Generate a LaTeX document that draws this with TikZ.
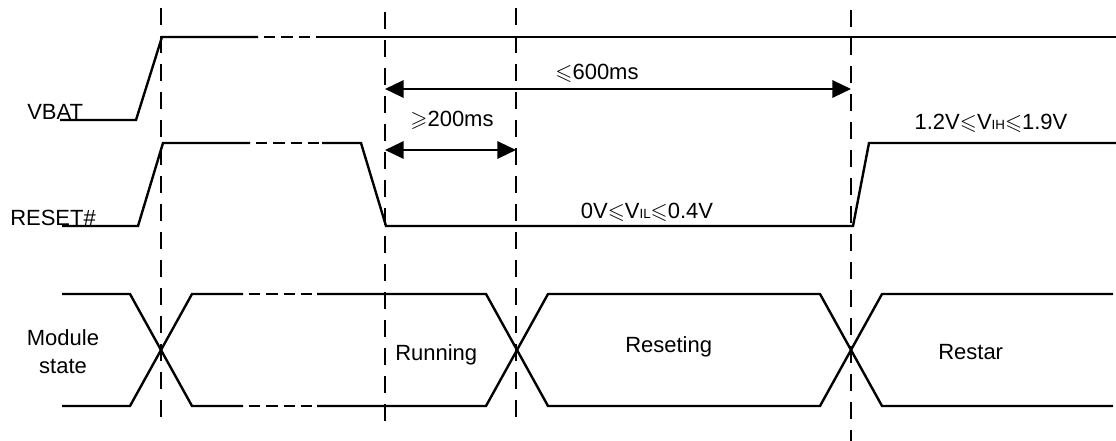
\documentclass[tikz,border=0pt]{standalone}
\usepackage{fontspec}
\setmainfont{Liberation Sans}
\usepackage{amssymb}
\usetikzlibrary{arrows.meta, positioning}

\newcommand{\sub}[1]{{\fontsize{10}{12}\selectfont #1}}

\begin{document}
\begin{tikzpicture}[
  x=0.75pt, y=-0.75pt,
  sig/.style={line width=1.8pt, line join=miter},
  broken/.style={line width=1.8pt, dash pattern=on 8.5pt off 4.5pt, dash phase=8.5pt},
  marker/.style={line width=1.8pt, dash pattern=on 13pt off 8pt},
  dim/.style={{Triangle[length=14pt,width=13pt]}-{Triangle[length=14pt,width=13pt]}, line width=1.7pt},
  lbl/.style={font=\fontsize{16.5}{21}\selectfont, inner sep=0pt}
]
  \useasboundingbox (0,0) rectangle (1116,441);

  % time markers
  \draw[marker] (161,8) coordinate (m1top) -- (161,422) coordinate (m1bot);
  \draw[marker] (385,12) coordinate (m2top) -- (385,424) coordinate (m2bot);
  \draw[marker] (516,8) coordinate (m3top) -- (516,420) coordinate (m3bot);
  \draw[marker] (851,10) coordinate (m4top) -- (851,441) coordinate (m4bot);

  % VBAT
  \node[lbl, anchor=base west] (vbat) at (27,120) {VBAT};
  \draw[sig] (60,120) -- (136,120) -- (162,37) -- (258,37);
  \draw[broken] (258,37) -- (318,37);
  \draw[sig] (318,37) -- (1116,37);

  % RESET#
  \node[lbl, anchor=base west] (reset) at (10,226) {RESET\#};
  \draw[sig] (62,226) -- (138,226) -- (163,143) -- (250,143);
  \draw[broken] (250,143) -- (322,143);
  \draw[sig] (322,143) -- (361,143) -- (386,226) -- (853,226) -- (869,143) -- (1116,143);

  \coordinate (lo600) at (385,89);
  \coordinate (hi600) at (851,89);
  \coordinate (lo200) at (385,150);
  \coordinate (hi200) at (516,150);
  \draw[dim] (lo600) -- (hi600);
  \draw[dim] (lo200) -- (hi200);
  \node[lbl, anchor=base] (t600) at (597,80) {$\leqslant$600ms};
  \node[lbl, anchor=base] (t200) at (452,127) {$\geqslant$200ms};
  \node[lbl, anchor=base] (vil) at (647,219) {0V$\leqslant$V\sub{IL}$\leqslant$0.4V};
  \node[lbl, anchor=base] (vih) at (991,130) {1.2V$\leqslant$V\sub{IH}$\leqslant$1.9V};

  % Module state
  \node[lbl, align=center] (mod) at (63,352) {Module\\state};
  \draw[sig] (62,294) -- (130,294) -- (192,406) -- (243,406);
  \draw[sig] (62,406) -- (130,406) -- (192,294) -- (243,294);
  \draw[broken] (243,294) -- (317,294);
  \draw[broken] (243,406) -- (317,406);
  \draw[sig] (317,294) -- (486,294) -- (548,406) -- (820,406) -- (882,294) -- (1113,294);
  \draw[sig] (317,406) -- (486,406) -- (548,294) -- (820,294) -- (882,406) -- (1113,406);
  \node[lbl, anchor=base west] (run) at (395,360) {Running};
  \node[lbl, anchor=base west] (rst) at (625,352) {Reseting};
  \node[lbl, anchor=base west] (restar) at (938,359) {Restar};
\end{tikzpicture}
\end{document}
